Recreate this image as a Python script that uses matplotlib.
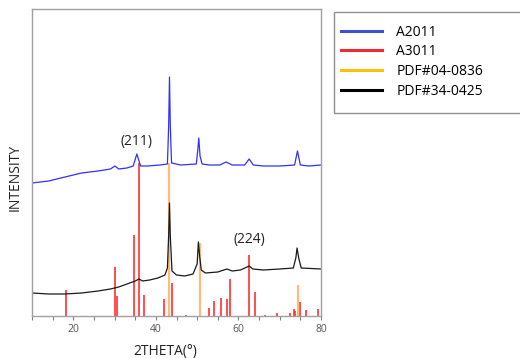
import matplotlib
matplotlib.use("Agg")
import matplotlib.pyplot as plt
from matplotlib.lines import Line2D
from matplotlib.patches import Rectangle
from matplotlib.ticker import MultipleLocator

plt.rcParams['font.family'] = ['Open Sans', 'DejaVu Sans']

# A2011 pattern (upper curve), arbitrary intensity units
blue_x = [10, 14, 18, 22, 26, 29, 30.1, 31, 33, 34.5, 35.4, 36.3, 38, 41, 42.8,
          43.1, 43.3, 43.5, 43.8, 46, 49.8, 50.2, 50.4, 50.7, 51.2, 53, 55.5,
          57.0, 58.5, 61.5, 62.6, 63.6, 66, 70, 73.6, 74.3, 75.0, 77, 80]
blue_y = [133, 135, 139, 143, 145, 147, 150, 147, 148, 150, 162, 150, 150, 151, 152,
          190, 239, 190, 153, 151, 152, 168, 178, 160, 152, 151, 151,
          154, 151, 151, 157, 151, 150, 150, 151, 165, 151, 150, 151]

# A3011 pattern (lower curve)
black_x = [10, 14, 18, 22, 26, 29, 31, 33, 35, 35.9, 36.8, 38.5, 40.5, 42.2, 42.8,
           43.1, 43.3, 43.5, 43.9, 45, 47, 49, 50.0, 50.3, 50.6, 51.0, 52, 55,
           57.2, 58.5, 60.5, 62.6, 63.5, 66, 70, 73.3, 73.9, 74.2, 74.6, 75.2, 80]
black_y = [23, 22, 22, 23, 25, 27, 29, 32, 35, 37, 35, 36, 38, 41, 48,
           80, 113, 80, 45, 41, 40, 42, 52, 74, 60, 46, 43, 44,
           47, 45, 46, 50, 47, 46, 47, 48, 58, 68, 58, 48, 47]

# reference sticks
red_pos = [18.3, 30.0, 30.6, 34.8, 35.9, 37.2, 42.0, 44.0, 47.2, 52.9, 54.1, 55.8,
           57.3, 58.0, 62.5, 63.9, 66.4, 69.4, 72.4, 73.5, 73.8, 75.0, 76.4, 79.3]
red_int = [26, 49, 20, 81, 153, 21, 17, 33, 1.5, 8, 15, 18,
           17, 37, 61, 24, 1, 3, 3, 7, 5, 14, 6, 7]
orange_pos = [43.3, 50.6, 74.4]
orange_int = [153, 73, 31]

legend_labels = ['A2011', 'A3011', 'PDF#04-0836', 'PDF#34-0425']
legend_colors = ['#3f4fd0', '#ee2a33', '#ffc000', '#000000']

W, H = 520, 358
fig = plt.figure(figsize=(W / 100, H / 100), dpi=100)
ax = fig.add_axes([32 / W, (H - 316) / H, 289 / W, 307 / H])

ax.vlines(red_pos, 0, red_int, colors='#ff3030', lw=1.2)
ax.vlines(orange_pos, 0, orange_int, colors='#ffbb77', lw=1.6)
ax.plot(black_x, black_y, color='#1a1a1a', lw=0.9)
ax.plot(blue_x, blue_y, color='#3030ff', lw=0.9)

ax.text(35.4, 174, '(211)', ha='center', va='center', fontsize=10, color='#222222')
ax.text(62.6, 76, '(224)', ha='center', va='center', fontsize=10, color='#222222')

ax.set_xlim(10, 80)
ax.set_ylim(0, 307)
ax.xaxis.set_major_locator(MultipleLocator(20))
ax.xaxis.set_minor_locator(MultipleLocator(5))
ax.set_yticks([])
ax.tick_params(axis='x', which='both', direction='out', length=3, width=0.8,
               colors='#808080', labelcolor='#555555', labelsize=7.5, pad=3)
for s in ax.spines.values():
    s.set_color('#a0a0a0')
    s.set_linewidth(1.0)

fig.text(15 / W, 1 - 177 / H, 'INTENSITY', rotation=90, ha='center', va='center',
         fontsize=10, color='#222222')
fig.text(165 / W, 1 - 351 / H, '2THETA(°)', ha='center', va='center',
         fontsize=10, color='#222222')

# legend frame runs past the right edge like in the original
fig.patches.append(Rectangle((334 / W, 1 - 113 / H), 200 / W, 101 / H,
                             transform=fig.transFigure, facecolor='white',
                             edgecolor='#909090', lw=1.0))
handles = [Line2D([], [], color=c, lw=2.2) for c in legend_colors]
fig.legend(handles, legend_labels, loc='upper left',
           bbox_to_anchor=(338 / W, 1 - 22 / H), frameon=False, fontsize=10,
           handlelength=3.0, handletextpad=1.0, labelspacing=0.33,
           borderaxespad=0, borderpad=0.2)

fig.savefig('out.png', dpi=100)
